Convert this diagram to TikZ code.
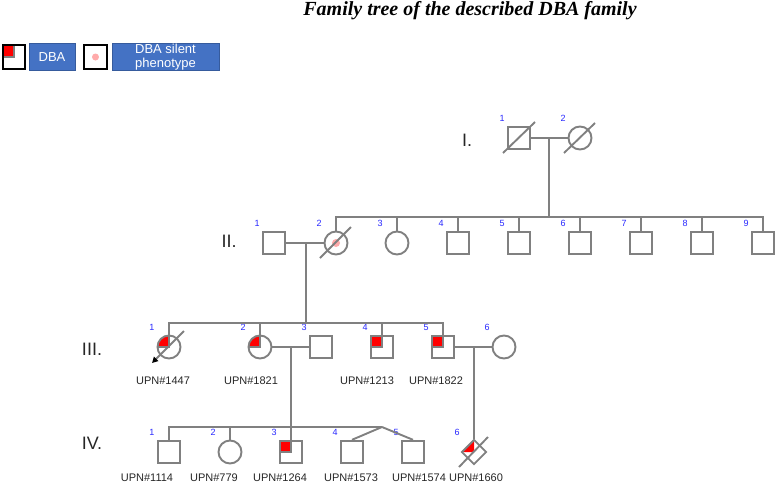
\documentclass[tikz,border=0pt]{standalone}
\usepackage{fontspec}
\setmainfont{Liberation Sans}
\newfontfamily\titlefont{Liberation Serif}
\usetikzlibrary{shapes.geometric,arrows.meta,calc}
\definecolor{lgrey}{RGB}{128,128,128}
\definecolor{numblue}{RGB}{40,40,255}
\definecolor{legblue}{RGB}{68,114,196}
\definecolor{pinkdot}{RGB}{255,170,170}
\definecolor{dbared}{RGB}{255,0,0}
\tikzset{
  ind/.style={draw=lgrey, line width=1.9pt, inner sep=0pt, fill=white},
  male/.style={ind, rectangle, minimum size=22.5pt},
  female/.style={ind, circle, minimum size=23pt},
  unk/.style={ind, diamond, aspect=1, minimum width=25pt, minimum height=25pt},
  affected/.style={path picture={
      \fill[dbared] (path picture bounding box.north west) rectangle (path picture bounding box.center);
      \draw[lgrey, line width=1.4pt] (path picture bounding box.north) -- (path picture bounding box.center) -- (path picture bounding box.west);}},
  affdiam/.style={path picture={
      \fill[dbared] (path picture bounding box.west) -- (path picture bounding box.north) -- (path picture bounding box.center) -- cycle;}},
  conn/.style={draw=lgrey, line width=1.9pt},
  num/.style={text=numblue, font=\fontsize{9}{10}\selectfont, inner sep=0pt},
  upn/.style={text=black!85, font=\fontsize{11}{13}\selectfont, inner sep=0pt},
  genlab/.style={text=black!85, font=\fontsize{18}{20}\selectfont, inner sep=0pt},
  legbox/.style={fill=legblue, draw=legblue!80!black, line width=0.6pt, text=white, inner sep=0pt, font=\fontsize{13}{14}\selectfont, align=center},
  legsym/.style={rectangle, draw=black, line width=1.9pt, fill=white, inner sep=0pt, minimum width=22.5pt, minimum height=23.5pt},
}
\begin{document}
\begin{tikzpicture}[x=1pt,y=-1pt]
\useasboundingbox (0,0) rectangle (776,483);

% title
\node[font=\titlefont\bfseries\itshape\fontsize{20}{24}\selectfont, inner sep=0pt] (title) at (470,11) {Family tree of the described DBA family};

% legend
\node[legsym, affected] (legA) at (14,57) {};
\node[legbox, minimum width=46pt, minimum height=27pt] (legAt) at (52,57) {DBA};
\node[legsym] (legB) at (95.5,57) {};
\node[circle, fill=pinkdot, inner sep=0pt, minimum size=7pt] (legBdot) at (legB.center) {};
\node[legbox, minimum width=107pt, minimum height=27pt] (legBt) at (165.5,57) {DBA silent\\phenotype};

% generation labels
\node[genlab] (gI) at (467,140) {I.};
\node[genlab] (gII) at (229,241) {II.};
\node[genlab] (gIII) at (92,349) {III.};
\node[genlab] (gIV) at (92,443) {IV.};

% generation I
\node[male] (I1) at (519,138) {};
\node[female] (I2) at (580,138) {};

% generation II
\node[male] (II1) at (274,243) {};
\node[female] (II2) at (336,243) {};
\node[female] (II3) at (397,243) {};
\foreach \i/\x in {4/458,5/519,6/580,7/641,8/702,9/763}
  \node[male] (II\i) at (\x,243) {};

% generation III
\node[female, affected] (III1) at (169,347) {};
\node[female, affected] (III2) at (260,347) {};
\node[male] (III3) at (321,347) {};
\node[male, affected] (III4) at (382,347) {};
\node[male, affected] (III5) at (443,347) {};
\node[female] (III6) at (504,347) {};

% generation IV
\node[male] (IV1) at (169,452) {};
\node[female] (IV2) at (230,452) {};
\node[male, affected] (IV3) at (291,452) {};
\node[male] (IV4) at (352,452) {};
\node[male] (IV5) at (413,452) {};
\node[unk, affdiam] (IV6) at (474,452) {};

% numbers
\foreach \n/\k in {I1/1,I2/2,II1/1,II2/2,II3/3,II4/4,II5/5,II6/6,II7/7,II8/8,II9/9,III1/1,III2/2,III3/3,III4/4,III5/5,III6/6,IV1/1,IV2/2,IV3/3,IV4/4,IV5/5,IV6/6}
  \node[num] (n\n) at ($(\n.center)+(-17,-19.5)$) {\k};

% UPN labels
\node[upn] (u1447) at (163,381) {UPN\#1447};
\node[upn] (u1821) at (251,381) {UPN\#1821};
\node[upn] (u1213) at (367,381) {UPN\#1213};
\node[upn] (u1822) at (436,381) {UPN\#1822};
\node[upn] (u1114) at (147,478) {UPN\#1114};
\node[upn] (u779) at (214,478) {UPN\#779};
\node[upn] (u1264) at (280,478) {UPN\#1264};
\node[upn] (u1573) at (351,478) {UPN\#1573};
\node[upn] (u1574) at (419,478) {UPN\#1574};
\node[upn] (u1660) at (476,478) {UPN\#1660};

% connectors generation I -> II
\coordinate (Im) at (549,138);
\coordinate (IIs) at (549,217);
\draw[conn] (I1.east) -- (I2.west);
\draw[conn] (Im) -- (IIs);
\draw[conn] (II2.north) -- (II2.center |- IIs) -- (II9.center |- IIs) -- (II9.north);
\foreach \i in {3,4,5,6,7,8}
  \draw[conn] (II\i.north) -- (II\i.center |- IIs);

% II -> III
\coordinate (IIm) at (306,243);
\coordinate (IIIs) at (306,323);
\draw[conn] (II1.east) -- (II2.west);
\draw[conn] (IIm) -- (IIIs);
\draw[conn] (III1.north) -- (III1.center |- IIIs) -- (III5.center |- IIIs) -- (III5.north);
\draw[conn] (III2.north) -- (III2.center |- IIIs);
\draw[conn] (III4.north) -- (III4.center |- IIIs);

% III -> IV
\coordinate (IIIm) at (291,347);
\coordinate (IVs) at (291,427);
\coordinate (IVt) at (382,427);
\draw[conn] (III2.east) -- (III3.west);
\draw[conn] (IIIm) -- (IV3.north);
\draw[conn] (IV1.north) -- (IV1.center |- IVs) -- (IVt);
\draw[conn] (IV2.north) -- (IV2.center |- IVs);
\draw[conn] (IVt) -- (IV4.north);
\draw[conn] (IVt) -- (IV5.north);

\coordinate (IIIm2) at (474,347);
\draw[conn] (III5.east) -- (III6.west);
\draw[conn] (IIIm2) -- (IV6.north);

% silent phenotype dot
\node[circle, fill=pinkdot, inner sep=0pt, minimum size=8pt] (II2dot) at (II2.center) {};

% deceased slashes
\draw[conn] ($(I1.center)+(-16,15)$) -- ($(I1.center)+(16,-16)$);
\draw[conn] ($(I2.center)+(-16,15)$) -- ($(I2.center)+(15,-15)$);
\draw[conn] ($(II2.center)+(-16,15)$) -- ($(II2.center)+(15,-16)$);
\draw[conn] ($(IV6.center)+(-15,15)$) -- ($(IV6.center)+(14,-15)$);

% proband arrow
\coordinate (pbS) at ($(III1.center)+(15,-16)$);
\coordinate (pbE) at ($(III1.center)+(-17,16)$);
\draw[conn, -{Triangle[black, length=6pt, width=6pt]}] (pbS) -- (pbE);

\end{tikzpicture}
\end{document}
